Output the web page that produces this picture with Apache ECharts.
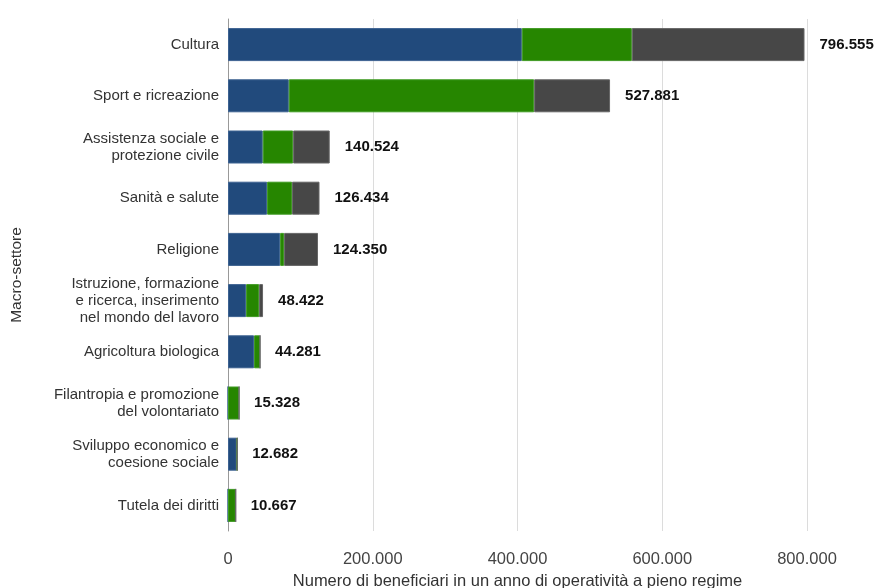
<!DOCTYPE html>
<html>
<head>
<meta charset="utf-8">
<script src="https://cdn.jsdelivr.net/npm/echarts@6/dist/echarts.min.js"></script>
<style>html,body{margin:0;padding:0;background:#fff;}#c{width:876px;height:588px;}</style>
</head>
<body>
<div id="c"></div>
<script>
const categories = [
  "Cultura",
  "Sport e ricreazione",
  "Assistenza sociale e\nprotezione civile",
  "Sanità e salute",
  "Religione",
  "Istruzione, formazione\ne ricerca, inserimento\nnel mondo del lavoro",
  "Agricoltura biologica",
  "Filantropia e promozione\ndel volontariato",
  "Sviluppo economico e\ncoesione sociale",
  "Tutela dei diritti"
];
const seriesBlue  = [406000, 84000, 48000, 54000, 72000, 25000, 36000, 0, 12000, 0];
const seriesGreen = [152000, 339000, 42000, 34500, 5500, 18000, 8281, 15328, 682, 10667];
const seriesGray  = [238555, 104881, 50524, 37934, 46850, 5422, 0, 0, 0, 0];
const totals      = [796555, 527881, 140524, 126434, 124350, 48422, 44281, 15328, 12682, 10667];
const xTicks = [0, 200000, 400000, 600000, 800000];

function fmt(v) {
  return String(Math.round(v)).replace(/\B(?=(\d{3})+(?!\d))/g, '.');
}

const chart = echarts.init(document.getElementById('c'), null, {renderer: 'canvas'});
const barW = 33;
const font = "'Liberation Sans', Arial, sans-serif";
function barSeries(name, data, color, border) {
  return {
    name, type: 'bar', stack: 'tot', data, barWidth: barW,
    itemStyle: {color, borderColor: border, borderWidth: 1},
    emphasis: {disabled: true},
    silent: true
  };
}
chart.setOption({
  animation: false,
  textStyle: {fontFamily: font},
  grid: {left: 228, right: 69, top: 19, bottom: 57, containLabel: false, outerBoundsMode: 'none'},
  xAxis: {
    type: 'value', min: xTicks[0], max: xTicks[xTicks.length - 1], interval: xTicks[1] - xTicks[0],
    axisLine: {show: false}, axisTick: {show: false},
    splitLine: {lineStyle: {color: '#dcdcdc', width: 1}},
    axisLabel: {formatter: v => fmt(v), color: '#444', fontSize: 16.5, margin: 20, fontFamily: font},
    name: 'Numero di beneficiari in un anno di operatività a pieno regime',
    nameLocation: 'middle', nameGap: 39,
    nameTextStyle: {color: '#333', fontSize: 16.5, fontFamily: font}
  },
  yAxis: {
    type: 'category', data: categories, inverse: true,
    axisLine: {show: true, lineStyle: {color: '#999', width: 1}},
    axisTick: {show: false},
    axisLabel: {color: '#333', fontSize: 15, lineHeight: 17, margin: 9, fontFamily: font},
    name: 'Macro-settore', nameLocation: 'middle', nameGap: 203, nameRotate: 90,
    nameTextStyle: {color: '#333', fontSize: 15.5, fontFamily: font}
  },
  series: [
    barSeries('Blu', seriesBlue, '#214a7c', '#3d6291'),
    barSeries('Verde', seriesGreen, '#268600', '#3f9a22'),
    barSeries('Grigio', seriesGray, '#474747', '#666666'),
    {
      name: 'Totale', type: 'bar', stack: 'tot', barWidth: barW, silent: true,
      data: totals.map(() => 0),
      itemStyle: {color: 'transparent'},
      label: {
        show: true, position: 'right', distance: 15,
        formatter: p => fmt(totals[p.dataIndex]),
        color: '#111', fontWeight: 'bold', fontSize: 15, fontFamily: font
      }
    }
  ]
});
</script>
</body>
</html>
